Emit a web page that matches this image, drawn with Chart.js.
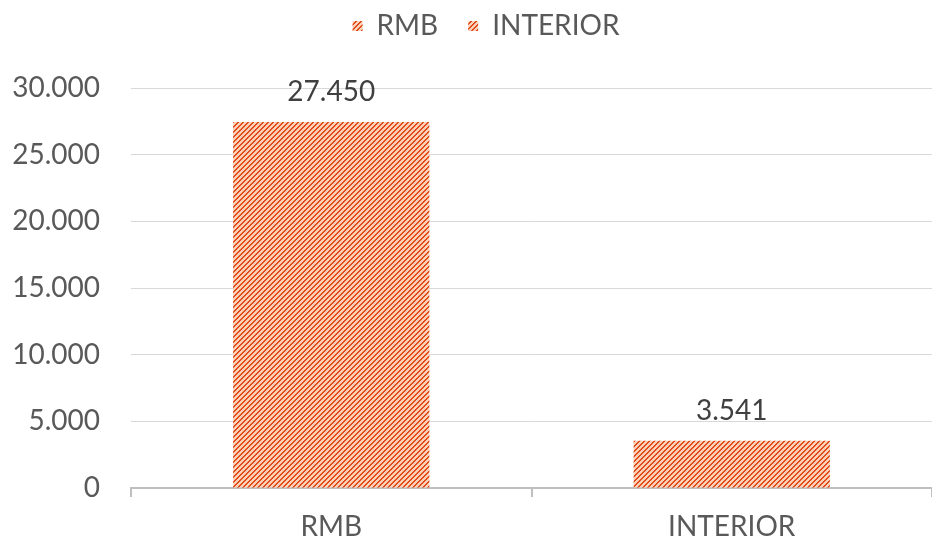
<!DOCTYPE html>
<html><head><meta charset="utf-8">
<script src="https://cdn.jsdelivr.net/npm/chart.js@4"></script>
<style>html,body{margin:0;padding:0;background:#fff}#w{width:932px;height:542px}</style>
</head><body><div id="w"><canvas id="c"></canvas></div>
<script>
const categories = ['RMB', 'INTERIOR'];
const seriesNames = ['RMB', 'INTERIOR'];
const rmbValues = [27450, null];
const interiorValues = [null, 3541];
const yTicks = [0, 5000, 10000, 15000, 20000, 25000, 30000];

function fmt(v){ return String(v).replace(/\B(?=(\d{3})+(?!\d))/g,'.'); }

function makePattern(){
  const n = 5;
  const p = document.createElement('canvas');
  p.width = n; p.height = n;
  const g = p.getContext('2d');
  g.fillStyle = '#fbd0b6'; g.fillRect(0,0,n,n);
  g.fillStyle = '#e24c1a';
  for (let y = 0; y < n; y++) {
    g.fillRect((n - 1 - y + n) % n, y, 1, 1);
    g.fillRect((n - y) % n, y, 1, 1);
  }
  return document.getElementById('c').getContext('2d').createPattern(p,'repeat');
}
const pat = makePattern();
const FONT = 'Lato, "Open Sans", sans-serif';
const FS = 28;

const labelPlugin = {
  id:'vlabels',
  afterDatasetsDraw(chart){
    const ctx = chart.ctx;
    ctx.save();
    ctx.font = FS + 'px ' + FONT;
    ctx.fillStyle = '#404040';
    ctx.textAlign = 'center';
    ctx.textBaseline = 'middle';
    chart.data.datasets.forEach((ds,i)=>{
      const meta = chart.getDatasetMeta(i);
      meta.data.forEach((el,j)=>{
        const v = ds.data[j];
        if (v === null || v === undefined) return;
        ctx.fillText(fmt(v), el.x, el.y - 30);
      });
    });
    ctx.restore();
  }
};

const chart = new Chart(document.getElementById('c'), {
  type:'bar',
  data:{
    labels: categories,
    datasets:[
      {label: seriesNames[0], data: rmbValues, backgroundColor: pat, grouped:false, categoryPercentage:1, barPercentage:0.49},
      {label: seriesNames[1], data: interiorValues, backgroundColor: pat, grouped:false, categoryPercentage:1, barPercentage:0.49}
    ]
  },
  options:{
    responsive:true, maintainAspectRatio:false, animation:false,
    layout:{padding:{top:-20,right:0,bottom:0,left:0}},
    plugins:{
      legend:{position:'top', labels:{boxWidth:10, boxHeight:10, padding:30, color:'#595959', font:{family:FONT,size:FS}}},
      tooltip:{enabled:false}
    },
    scales:{
      x:{
        offset:true,
        afterFit(s){ s.height = 54; },
        grid:{offset:true, drawOnChartArea:false, drawTicks:true, tickLength:9, color:'#bfbfbf', lineWidth:2},
        border:{color:'#bfbfbf', width:2},
        ticks:{color:'#595959', padding:13, font:{family:FONT,size:FS}}
      },
      y:{
        min:0, max:30000,
        afterFit(s){ s.width = 131; },
        afterBuildTicks(s){ s.ticks = yTicks.map(v=>({value:v})); },
        grid:{color:'#d9d9d9', lineWidth:1, drawTicks:false},
        border:{display:false},
        ticks:{color:'#595959', padding:31, font:{family:FONT,size:FS}, callback:(v)=>fmt(v)}
      }
    }
  },
  plugins:[labelPlugin]
});
const lg = chart.legend;
const origFit = lg.fit;
lg.fit = function(){ origFit.call(this); this.height += 40; };
const origDraw = lg.draw;
lg.draw = function(){ const c = this.ctx; c.save(); c.translate(20, 2); origDraw.call(this); c.restore(); };
chart.update();
</script></body></html>
